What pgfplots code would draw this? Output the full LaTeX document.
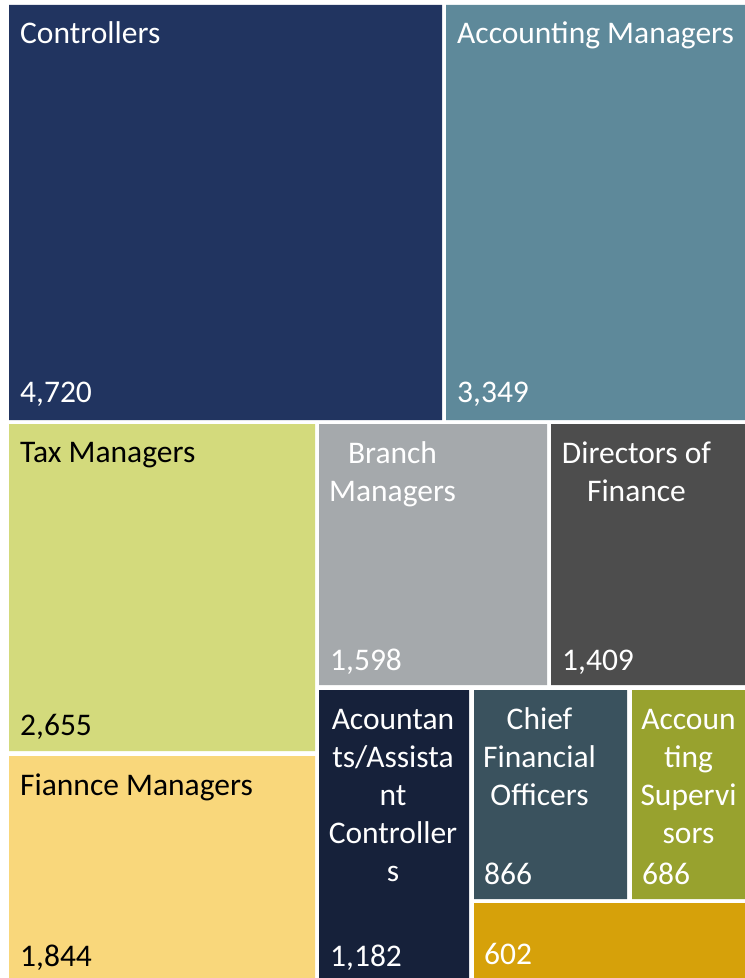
\documentclass[border=0pt]{standalone}
\usepackage{pgfplots}
\pgfplotsset{compat=1.18}
\usepackage{fontspec}
\setmainfont{Carlito}
\definecolor{cCtrl}{HTML}{213460}
\definecolor{cAccM}{HTML}{5E899A}
\definecolor{cTax}{HTML}{D3DA7C}
\definecolor{cFin}{HTML}{F9D77B}
\definecolor{cBr}{HTML}{A5A9AC}
\definecolor{cDir}{HTML}{4D4D4D}
\definecolor{cAcc}{HTML}{16213A}
\definecolor{cCFO}{HTML}{3A525E}
\definecolor{cSup}{HTML}{98A22E}
\definecolor{cOth}{HTML}{D6A10A}
\newcommand{\lf}{\fontsize{31.5bp}{38bp}\selectfont}
\tikzset{lw/.style={font=\lf, inner sep=0pt, anchor=base west},
         lc/.style={font=\lf, inner sep=0pt, anchor=base}}
\begin{document}
\begin{tikzpicture}
\begin{axis}[
  scale only axis, width=745bp, height=978bp,
  xmin=0, xmax=745, ymin=0, ymax=978, y dir=reverse,
  hide axis, clip=false,
]
% background so the page keeps the reference margins
\addplot[fill=white, draw=none] coordinates {(0,0) (745,0) (745,978) (0,978) (0,0)};
% rectangles: corners in picture pixels
\addplot[fill=cCtrl, draw=none] coordinates {(9,5) (442,5) (442,420) (9,420) (9,5)};
\addplot[fill=cAccM, draw=none] coordinates {(446,5) (745,5) (745,420) (446,420) (446,5)};
\addplot[fill=cTax, draw=none] coordinates {(9,424) (315,424) (315,751) (9,751) (9,424)};
\addplot[fill=cFin, draw=none] coordinates {(9,756) (315,756) (315,978) (9,978) (9,756)};
\addplot[fill=cBr, draw=none] coordinates {(319,424) (547,424) (547,685) (319,685) (319,424)};
\addplot[fill=cDir, draw=none] coordinates {(551,424) (745,424) (745,685) (551,685) (551,424)};
\addplot[fill=cAcc, draw=none] coordinates {(319,690) (469,690) (469,978) (319,978) (319,690)};
\addplot[fill=cCFO, draw=none] coordinates {(474,690) (627,690) (627,899) (474,899) (474,690)};
\addplot[fill=cSup, draw=none] coordinates {(632,690) (745,690) (745,899) (632,899) (632,690)};
\addplot[fill=cOth, draw=none] coordinates {(474,903) (745,903) (745,978) (474,978) (474,903)};
% names
\node[lw, text=white] at (axis cs:20,44) {Controllers};
\node[lw, text=white] at (axis cs:457,44) {Accounting Managers};
\node[lw, text=black] at (axis cs:20,462) {Tax Managers};
\node[lw, text=black] at (axis cs:20,795) {Fiannce Managers};
\node[lc, text=white] at (axis cs:392.5,463) {Branch};
\node[lc, text=white] at (axis cs:392.5,501) {Managers};
\node[lc, text=white] at (axis cs:636.5,463) {Directors of};
\node[lc, text=white] at (axis cs:636.5,501) {Finance};
\node[lc, text=white] at (axis cs:393,729) {Acountan};
\node[lc, text=white] at (axis cs:393,767) {ts/Assista};
\node[lc, text=white] at (axis cs:393,805) {nt};
\node[lc, text=white] at (axis cs:393,843) {Controller};
\node[lc, text=white] at (axis cs:393,881) {s};
\node[lc, text=white] at (axis cs:539.5,729) {Chief};
\node[lc, text=white] at (axis cs:539.5,767) {Financial};
\node[lc, text=white] at (axis cs:539.5,805) {Officers};
\node[lc, text=white] at (axis cs:688.5,729) {Accoun};
\node[lc, text=white] at (axis cs:688.5,767) {ting};
\node[lc, text=white] at (axis cs:688.5,805) {Supervi};
\node[lc, text=white] at (axis cs:688.5,843) {sors};
% values
\node[lw, text=white] at (axis cs:20,402) {4,720};
\node[lw, text=white] at (axis cs:457,402) {3,349};
\node[lw, text=black] at (axis cs:20,735) {2,655};
\node[lw, text=black] at (axis cs:20,966) {1,844};
\node[lw, text=white] at (axis cs:330,670) {1,598};
\node[lw, text=white] at (axis cs:562,670) {1,409};
\node[lw, text=white] at (axis cs:330,966) {1,182};
\node[lw, text=white] at (axis cs:484,884) {866};
\node[lw, text=white] at (axis cs:642,884) {686};
\node[lw, text=white] at (axis cs:484,964) {602};
\end{axis}
\end{tikzpicture}
\end{document}
